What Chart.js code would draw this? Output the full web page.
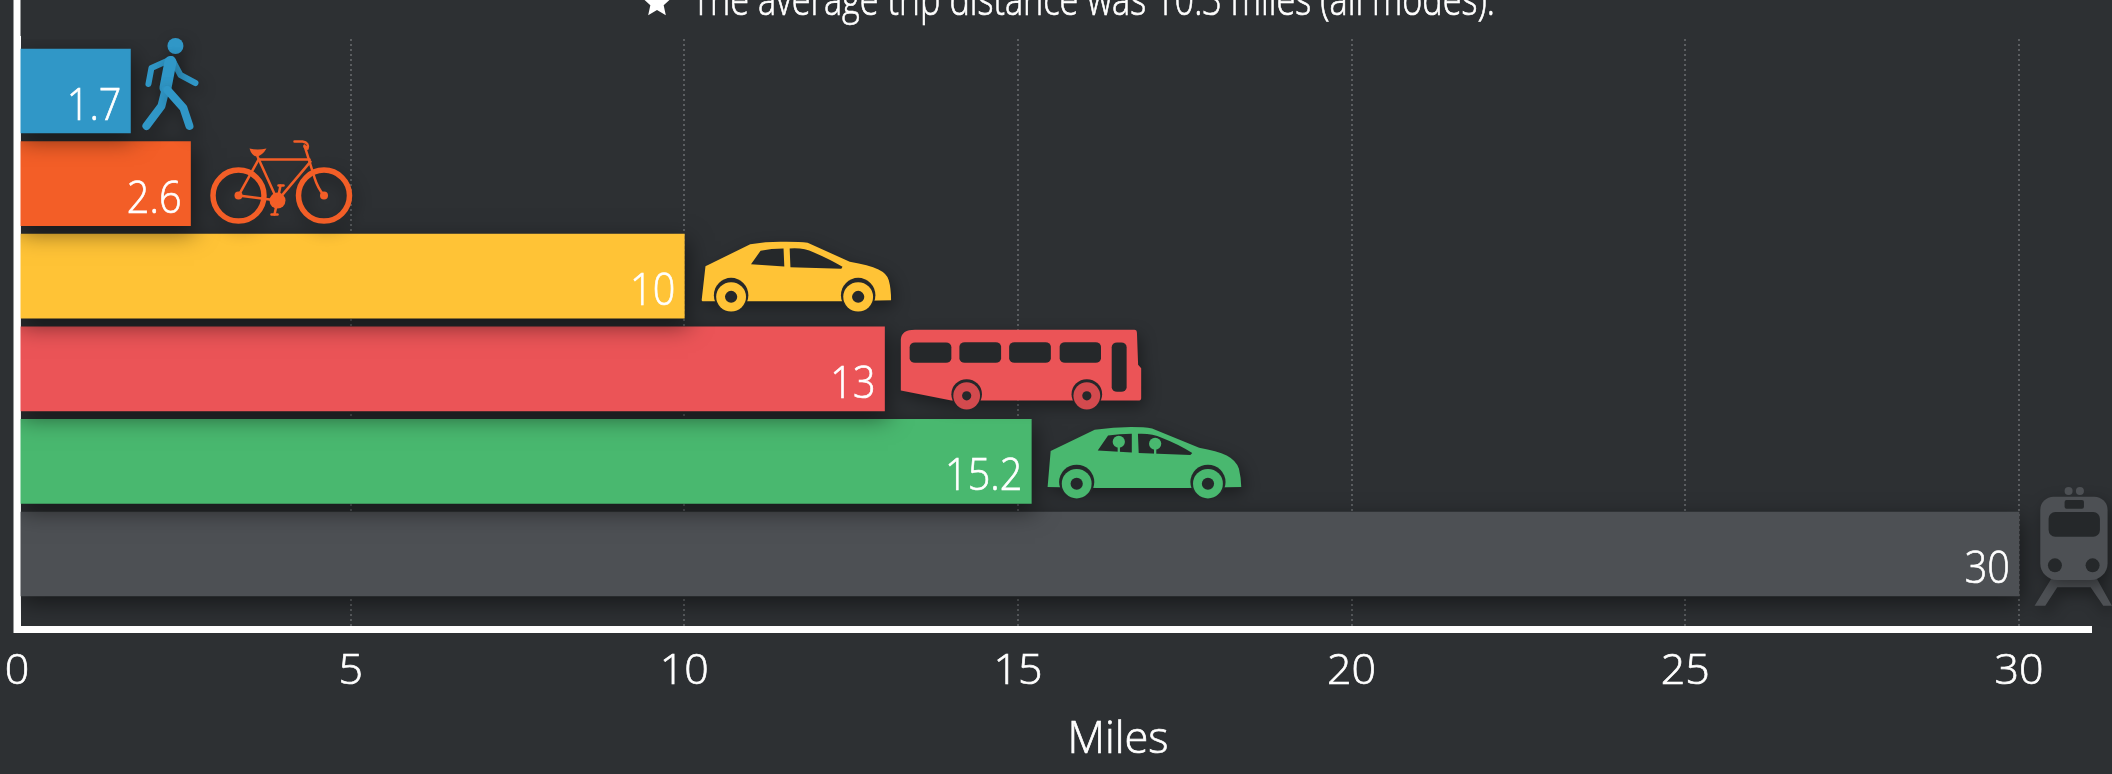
<!DOCTYPE html>
<html><head><meta charset="utf-8">
<style>html,body{margin:0;padding:0;background:#2d3033;overflow:hidden}canvas{display:block}</style>
<script src="https://cdn.jsdelivr.net/npm/chart.js@4"></script>
</head><body><canvas id="c" width="2112" height="774"></canvas>
<script>
// Drawn from the bottom bar up, so each upper bar's shadow falls on the bar below it.
const modes = ['Rail','Carpool','Bus','Car','Bicycle','Walk'];
const miles = [30,15.2,13,10,2.6,1.7];
const colors = ['#4d5054','#49b86f','#eb5457','#ffc336','#f35e27','#3097c7'];
const xTicks = [0,5,10,15,20,25,30];
const note = 'The average trip distance was 10.3 miles (all modes).';
const axisTitle = 'Miles';
const FONT = '"Open Sans"';
const DARK = '#25282a';

function wheel(ctx,cx,cy,col,hub,arch){
  ctx.fillStyle=arch;ctx.beginPath();ctx.ellipse(cx,cy-5,hub.a,hub.b,0,0,7);ctx.fill();
  ctx.fillStyle=col;ctx.beginPath();ctx.ellipse(cx,cy,hub.rx,hub.ry,0,0,7);ctx.fill();
  ctx.shadowColor='transparent';
  ctx.fillStyle=DARK;ctx.beginPath();ctx.ellipse(cx,cy,hub.hx,hub.hy,0,0,7);ctx.fill();
}
function unshadow(ctx){ctx.shadowColor='transparent';}
function shadow(ctx){ctx.shadowColor='rgba(0,0,0,.4)';ctx.shadowBlur=16;ctx.shadowOffsetX=3;ctx.shadowOffsetY=6;}

const icons = {
  Walk(ctx,c){ // local px, origin at bar end / bar centre
    ctx.translate(-130,-91);
    ctx.strokeStyle=c;ctx.fillStyle=c;ctx.lineCap='round';ctx.lineJoin='round';
    ctx.beginPath();ctx.arc(175,46,8,0,7);ctx.fill();
    const seg=(w,p)=>{ctx.lineWidth=w;ctx.beginPath();ctx.moveTo(p[0],p[1]);for(let i=2;i<p.length;i+=2)ctx.lineTo(p[i],p[i+1]);ctx.stroke();};
    seg(6,[171,59,151,68,148,84]);
    seg(6,[172,60,180,75,195,83]);
    seg(12,[170,62,165,88]);
    seg(8,[165,90,161,106,146,126]);
    seg(8,[167,90,183,108,189,126]);
  },
  Bicycle(ctx,c){
    ctx.translate(-190,-184);
    ctx.strokeStyle=c;ctx.fillStyle=c;ctx.lineCap='round';ctx.lineJoin='round';
    ctx.lineWidth=5.5;
    for(const x of [238,323.5]){ctx.beginPath();ctx.arc(x,196,25.5,0,7);ctx.stroke();}
    unshadow(ctx);
    for(const x of [238,323.5]){ctx.beginPath();ctx.arc(x,196,4,0,7);ctx.fill();}
    ctx.beginPath();ctx.arc(277,201,8,0,7);ctx.fill();
    ctx.lineWidth=2.5;
    const seg=(p)=>{ctx.beginPath();ctx.moveTo(p[0],p[1]);for(let i=2;i<p.length;i+=2)ctx.lineTo(p[i],p[i+1]);ctx.stroke();};
    seg([257,157,277,201]);seg([259,160,309,160]);seg([310,162,277,201]);seg([258,160,238,196]);seg([238,196,277,201]);
    ctx.beginPath();ctx.moveTo(304,146);ctx.lineTo(314,178);ctx.quadraticCurveTo(317,188,323.5,196);ctx.stroke();
    ctx.beginPath();ctx.moveTo(294,142);ctx.lineTo(302,142);ctx.quadraticCurveTo(309,143,307,149);ctx.lineTo(304,147);ctx.stroke();
    ctx.beginPath();ctx.moveTo(249,149);ctx.quadraticCurveTo(257,151,266,149);ctx.quadraticCurveTo(262,156,256,157);ctx.quadraticCurveTo(251,156,249,149);ctx.fill();
    seg([278,186,283,186]);seg([280,186,277,201,274,215]);seg([271,215,277,215]);
  },
  Car(ctx,c){
    ctx.translate(-24,-46);ctx.scale(1/2.613,1/3);
    ctx.fillStyle=c;
    ctx.fill(new Path2D('M108 210 L118 108 L235 42 Q285 33 330 35 Q365 35 385 38 L495 95 Q545 105 570 118 Q592 130 597 150 Q603 175 603 210 L472 213 L228 213 L110 213 Z'));
    unshadow(ctx);
    ctx.fillStyle=DARK;
    ctx.fill(new Path2D('M237 102 L262 62 Q290 55 322 55 L324 109 Z M338 55 Q375 52 400 66 Q445 88 476 110 L473 116 L340 111 Z'));
    for(const x of [185,517]) wheel(ctx,x,200,c,{a:45,b:52,rx:39,ry:44,hx:16,hy:18},DARK);
  },
  Bus(ctx,c){
    ctx.translate(-224,-139);ctx.scale(1/2.613,1/3);
    ctx.fillStyle=c;
    ctx.fill(new Path2D('M628 482 L628 328 Q630 300 665 300 L1238 300 Q1245 300 1245 310 L1248 405 L1256 415 L1256 505 Q1256 512 1248 512 L760 512 Z'));
    unshadow(ctx);
    ctx.fillStyle=DARK;
    for(const r of [[651,338,109,61],[781,337,109,62],[911,337,109,62],[1043,337,108,62],[1179,338,39,148]]){
      ctx.beginPath();ctx.roundRect(r[0],r[1],r[2],r[3],[14,14,14,14]);ctx.fill();
    }
    for(const x of [800,1114]) wheel(ctx,x,498,'#d34a4e',{a:40,b:45,rx:35,ry:41,hx:12,hy:14},DARK);
  },
  Carpool(ctx,c){
    ctx.translate(-371,-231);ctx.scale(1/2.613,1/3);
    ctx.fillStyle=c;
    ctx.fill(new Path2D('M1012 770 L1020 662 L1135 598 Q1185 590 1230 590 Q1265 590 1285 594 L1408 652 Q1455 662 1480 675 Q1505 690 1512 715 Q1518 745 1518 770 L1380 773 L1140 773 Z'));
    unshadow(ctx);
    ctx.fillStyle=DARK;
    ctx.fill(new Path2D('M1143 660 L1170 615 Q1200 610 1232 610 L1232 666 Z M1248 610 Q1285 608 1310 622 Q1355 642 1390 668 L1385 674 L1250 668 Z'));
    ctx.fillStyle=c;
    for(const h of [[1198,634],[1293,640]]){
      ctx.beginPath();ctx.ellipse(h[0],h[1],16,18,0,0,7);ctx.fill();
      ctx.fillRect(h[0]-3,h[1],6,34);
    }
    for(const x of [1088,1431]) wheel(ctx,x,760,c,{a:46,b:52,rx:39,ry:44,hx:16,hy:18},DARK);
  },
  Rail(ctx,c){
    ctx.translate(-119,-94);ctx.scale(1/3,1/3);
    ctx.fillStyle=c;
    ctx.fill(new Path2D('M404 437 L455 355 L590 355 L636 437 L610 437 L572 382 L472 382 L436 437 Z'));
    ctx.beginPath();ctx.roundRect(421,110,202,250,[40,40,50,50]);ctx.fill();
    unshadow(ctx);
    ctx.beginPath();ctx.arc(506,93,12,0,7);ctx.arc(540,93,12,0,7);ctx.fill();
    ctx.fillStyle=DARK;
    ctx.beginPath();ctx.roundRect(494,120,58,26,6);ctx.fill();
    ctx.beginPath();ctx.roundRect(446,156,154,74,20);ctx.fill();
    for(const x of [465,578]){ctx.beginPath();ctx.arc(x,316,21,0,7);ctx.fill();}
  }
};

function drawText(ctx,text,x,y,k,align){
  ctx.save();
  ctx.translate(x,y);ctx.scale(k,1);
  ctx.textAlign=align;ctx.textBaseline='alphabetic';
  ctx.strokeStyle='#fff';ctx.lineWidth=.7;
  ctx.fillText(text,0,0);ctx.strokeText(text,0,0);
  ctx.restore();
}
function fitText(ctx,text,x,y,width,align){
  drawText(ctx,text,x,y,width/ctx.measureText(text).width,align);
}

const barShadow={
  id:'barShadow',
  beforeDatasetsDraw(chart){const c=chart.ctx;c.save();c.shadowColor='rgba(0,0,0,.5)';c.shadowBlur=22;c.shadowOffsetX=3;c.shadowOffsetY=7;},
  afterDatasetsDraw(chart){chart.ctx.restore();}
};

const decorations={
  id:'decorations',
  afterDraw(chart){
    const ctx=chart.ctx, area=chart.chartArea;
    // left axis rule runs to the top of the page and sits above the bars
    ctx.fillStyle='#fff';
    ctx.fillRect(area.left-3.5,0,7,area.bottom+3.5);
    // icons and bar values
    const bars=chart.getDatasetMeta(0).data;
    bars.forEach((bar,i)=>{
      ctx.save();
      ctx.translate(bar.x,bar.y);
      shadow(ctx);
      icons[modes[i]](ctx,colors[i]);
      ctx.restore();
      ctx.fillStyle='#fff';
      ctx.font='300 45px '+FONT;
      drawText(ctx,String(miles[i]),bar.x-9,bar.y+29,.88,'right');
    });
    // note and axis title
    ctx.fillStyle='#fff';
    ctx.font='300 45px '+FONT;
    fitText(ctx,note,692,15,803,'left');
    const x=chart.scales.x;
    fitText(ctx,axisTitle,x.getPixelForValue(16.5),753,101,'center');
    // star bullet
    ctx.beginPath();
    for(let i=0;i<10;i++){
      const r=i%2?7:15,a=-Math.PI/2+i*Math.PI/5;
      const px=657+r*Math.cos(a),py=3+r*Math.sin(a);
      i?ctx.lineTo(px,py):ctx.moveTo(px,py);
    }
    ctx.closePath();ctx.fill();
  }
};

new Chart(document.getElementById('c'),{
  type:'bar',
  data:{datasets:[{
    label:axisTitle,
    data:modes.map((m,i)=>({x:miles[i],y:i,mode:m})),
    backgroundColor:colors,
    borderWidth:0,
    barThickness:84
  }]},
  options:{
    indexAxis:'y',
    responsive:false,
    animation:false,
    layout:{padding:{top:39,left:0,right:21,bottom:0}},
    plugins:{legend:{display:false},tooltip:{enabled:false},title:{display:false}},
    scales:{
      x:{
        type:'linear',min:0,max:31.08,
        afterBuildTicks(s){s.ticks=xTicks.map(v=>({value:v}));},
        afterFit(s){s.height=144.5;s.paddingLeft=0;s.paddingRight=0;},
        grid:{color:'#5a5d60',lineWidth:2,drawTicks:false},
        border:{display:true,color:'#fff',width:7,dash:[2,3]},
        ticks:{color:'#fff',font:{family:'"Open Sans"',size:43,weight:'300'},textStrokeColor:'#fff',textStrokeWidth:.7,padding:16,maxRotation:0,autoSkip:false,includeBounds:false}
      },
      y:{
        type:'linear',min:-0.8153,max:5.5616,offset:false,
        afterFit(s){s.width=17;},
        grid:{display:false,offset:false},
        border:{display:true,color:'#fff',width:7},
        ticks:{display:false}
      }
    }
  },
  plugins:[barShadow,decorations]
});
</script></body></html>
